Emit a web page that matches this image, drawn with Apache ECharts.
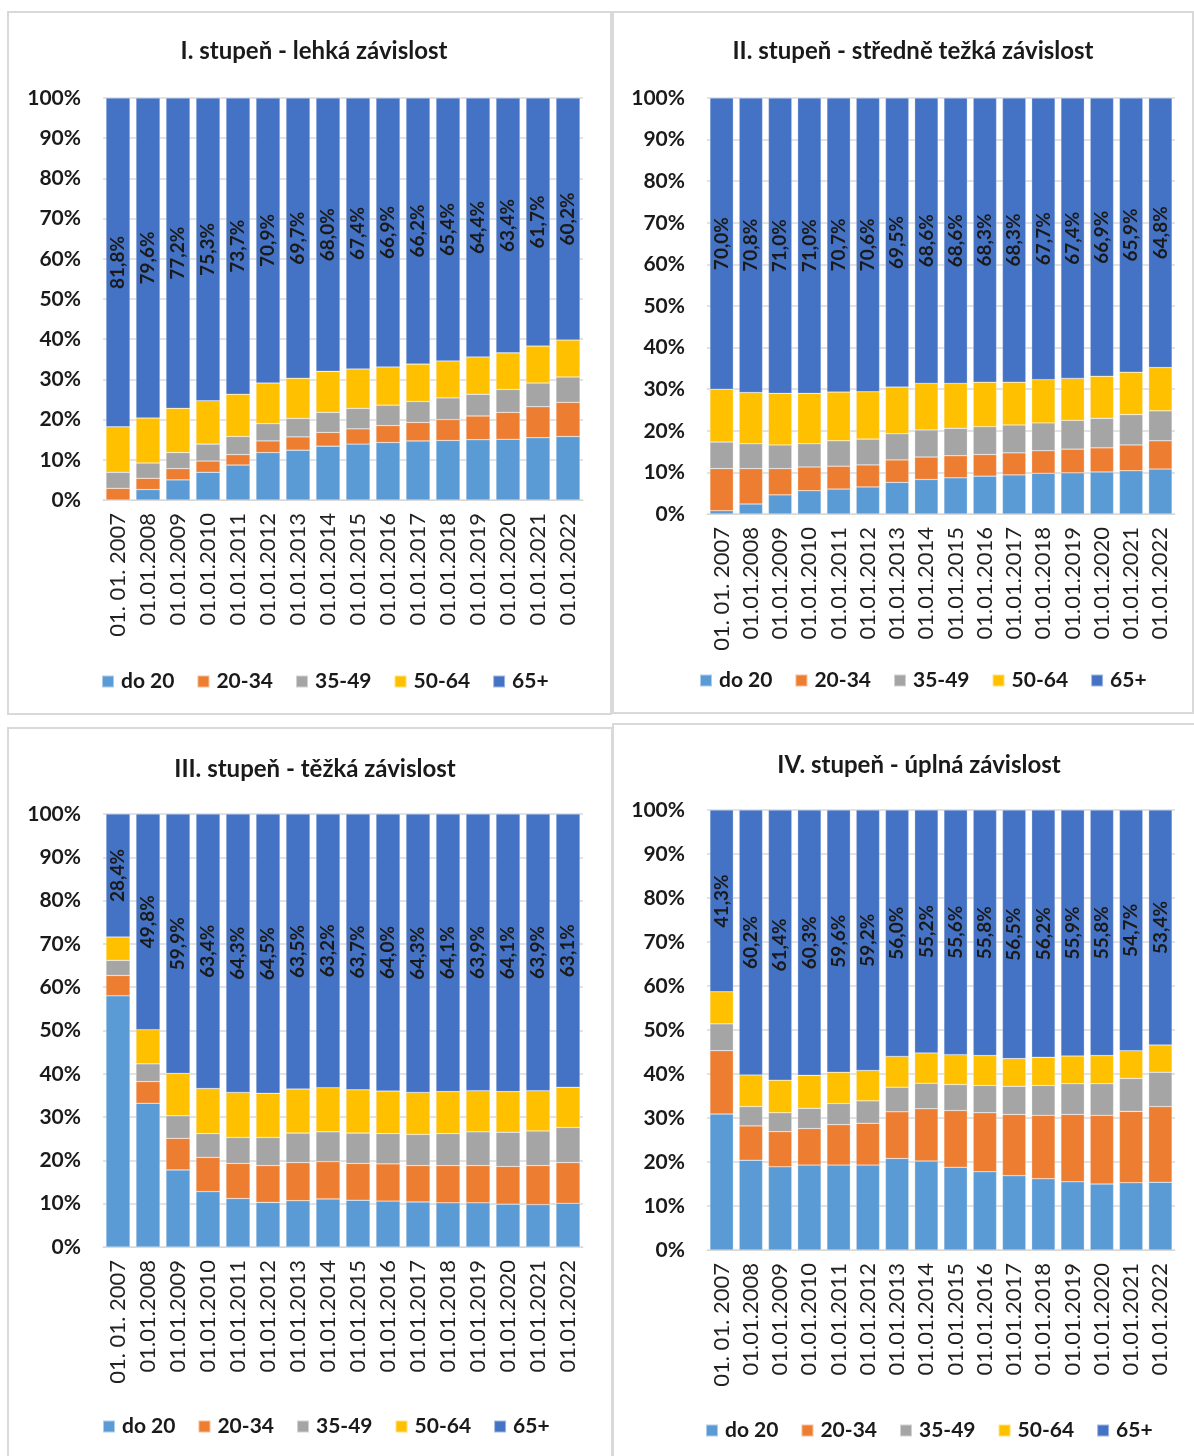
<!DOCTYPE html>
<html>
<head>
<meta charset="utf-8">
<script src="https://cdn.jsdelivr.net/npm/echarts@6/dist/echarts.min.js"></script>
<style>
html,body{margin:0;padding:0;background:#fff;}
#chart{width:1194px;height:1456px;}
</style>
</head>
<body>
<div id="chart"></div>
<script>
// ---- data ----
const seriesNames = ['do 20', '20-34', '35-49', '50-64', '65+'];
const categories = ['01. 01. 2007','01.01.2008','01.01.2009','01.01.2010','01.01.2011','01.01.2012','01.01.2013','01.01.2014','01.01.2015','01.01.2016','01.01.2017','01.01.2018','01.01.2019','01.01.2020','01.01.2021','01.01.2022'];
const yTickValues = [0,10,20,30,40,50,60,70,80,90,100];

const titles = ['I. stupeň - lehká závislost','II. stupeň - středně težká závislost','III. stupeň - těžká závislost','IV. stupeň - úplná závislost'];

// Panel I
const p1_do20  = [0.0,2.6,5.0,6.9,8.7,11.8,12.4,13.4,13.9,14.3,14.7,14.8,15.0,15.1,15.5,15.8];
const p1_20_34 = [2.9,2.8,2.8,2.8,2.6,2.9,3.3,3.4,3.8,4.2,4.6,5.2,5.9,6.7,7.7,8.5];
const p1_35_49 = [4.0,3.8,4.0,4.2,4.5,4.3,4.6,5.0,5.1,5.1,5.2,5.4,5.4,5.7,5.9,6.3];
const p1_50_64 = [11.3,11.2,11.0,10.8,10.5,10.1,10.0,10.2,9.8,9.5,9.3,9.2,9.3,9.1,9.2,9.2];
const p1_65    = [81.8,79.6,77.2,75.3,73.7,70.9,69.7,68.0,67.4,66.9,66.2,65.4,64.4,63.4,61.7,60.2];

// Panel II
const p2_do20  = [0.8,2.4,4.6,5.6,6.0,6.5,7.6,8.3,8.7,9.1,9.4,9.8,9.9,10.1,10.4,10.8];
const p2_20_34 = [10.1,8.5,6.3,5.7,5.5,5.3,5.4,5.4,5.3,5.2,5.3,5.4,5.7,5.8,6.2,6.8];
const p2_35_49 = [6.4,6.0,5.7,5.6,6.1,6.2,6.3,6.5,6.6,6.7,6.7,6.7,6.9,7.1,7.3,7.2];
const p2_50_64 = [12.7,12.3,12.4,12.1,11.7,11.4,11.2,11.2,10.8,10.7,10.3,10.4,10.1,10.1,10.2,10.4];
const p2_65    = [70.0,70.8,71.0,71.0,70.7,70.6,69.5,68.6,68.6,68.3,68.3,67.7,67.4,66.9,65.9,64.8];

// Panel III
const p3_do20  = [58.0,33.2,17.8,12.8,11.2,10.3,10.7,11.1,10.8,10.6,10.4,10.2,10.2,9.9,9.8,10.1];
const p3_20_34 = [4.7,5.0,7.3,7.9,8.1,8.5,8.8,8.6,8.5,8.6,8.4,8.6,8.6,8.7,9.0,9.4];
const p3_35_49 = [3.5,4.1,5.2,5.5,6.0,6.5,6.8,6.9,7.0,7.0,7.2,7.4,7.8,7.9,8.0,8.1];
const p3_50_64 = [5.4,7.9,9.8,10.4,10.4,10.2,10.2,10.2,10.0,9.8,9.7,9.7,9.5,9.4,9.3,9.3];
const p3_65    = [28.4,49.8,59.9,63.4,64.3,64.5,63.5,63.2,63.7,64.0,64.3,64.1,63.9,64.1,63.9,63.1];

// Panel IV
const p4_do20  = [30.9,20.4,18.9,19.3,19.3,19.3,20.8,20.2,18.8,17.8,16.9,16.2,15.5,15.0,15.3,15.4];
const p4_20_34 = [14.4,7.8,8.0,8.3,9.2,9.5,10.6,11.9,12.9,13.4,13.9,14.4,15.3,15.6,16.2,17.2];
const p4_35_49 = [6.1,4.4,4.3,4.6,4.8,5.1,5.6,5.8,5.9,6.2,6.4,6.8,7.0,7.2,7.5,7.8];
const p4_50_64 = [7.3,7.2,7.4,7.5,7.1,6.9,7.0,6.9,6.8,6.8,6.3,6.4,6.3,6.4,6.3,6.2];
const p4_65    = [41.3,60.2,61.4,60.3,59.6,59.2,56.0,55.2,55.6,55.8,56.5,56.2,55.9,55.8,54.7,53.4];

const panelData = [
  [p1_do20,p1_20_34,p1_35_49,p1_50_64,p1_65],
  [p2_do20,p2_20_34,p2_35_49,p2_50_64,p2_65],
  [p3_do20,p3_20_34,p3_35_49,p3_50_64,p3_65],
  [p4_do20,p4_20_34,p4_35_49,p4_50_64,p4_65]
];

// ---- layout/styles ----
const colors = ['#5B9BD5','#ED7D31','#A5A5A5','#FFC000','#4472C4'];
const FONT = 'Lato, "Open Sans", sans-serif';
const layout = [
  {left:103, right:1194-583, top:98, height:402, titleX:309, titleY:34, legendX:96, legendY:666, box:[8,12,603,702]},
  {left:707, right:1194-1175, top:98, height:416, titleX:908, titleY:34, legendX:694, legendY:665, box:[613,12,580,701]},
  {left:103, right:1194-583, top:814, height:433, titleX:310, titleY:752, legendX:97, legendY:1411, box:[8,728,604,740]},
  {left:707, right:1194-1175, top:810, height:440, titleX:914, titleY:748, legendX:700, legendY:1415, box:[613,724,590,740]}
];

const grid=[], xAxis=[], yAxis=[], series=[], title=[], legend=[], graphic=[];
layout.forEach((L,i)=>{
  grid.push({left:L.left, right:L.right, top:L.top, height:L.height});
  title.push({text:titles[i], left:L.titleX, top:L.titleY, textAlign:'center',
    textStyle:{fontFamily:FONT, fontWeight:'bold', fontSize:24, color:'#1a1a1a'}});
  legend.push({data:seriesNames, left:L.legendX, top:L.legendY, orient:'horizontal',
    itemWidth:12, itemHeight:12, itemGap:22, icon:'rect',
    formatter: n => '{b|' + n + '}',
    textStyle:{fontFamily:FONT, fontWeight:'bold', fontSize:21, color:'#1a1a1a',
      rich:{b:{fontFamily:FONT, fontWeight:'bold', fontSize:21, color:'#1a1a1a', padding:[0,0,0,2]}}}});
  xAxis.push({type:'category', gridIndex:i, data:categories,
    axisLine:{lineStyle:{color:'#d9d9d9', width:1}}, axisTick:{show:false},
    axisLabel:{rotate:90, interval:0, margin:13, fontFamily:FONT, fontSize:22, color:'#222'}});
  yAxis.push({type:'value', gridIndex:i, min:0, max:100, interval:10,
    axisLine:{show:false}, axisTick:{show:false},
    splitLine:{lineStyle:{color:'#d9d9d9', width:1.5}},
    axisLabel:{margin:22, fontFamily:FONT, fontWeight:'bold', fontSize:21, color:'#1a1a1a',
      formatter:v=>v+'%'}});
  panelData[i].forEach((arr,k)=>{
    const s = {name:seriesNames[k], type:'bar', stack:'p'+i, xAxisIndex:i, yAxisIndex:i,
      data:arr, barCategoryGap:'20%', itemStyle:{color:colors[k], borderColor:'rgba(255,255,255,0.5)', borderWidth:0.5}};
    if(k===4){
      s.label={show:true, position:'inside', rotate:90, fontFamily:FONT, fontWeight:'bold', fontSize:19, color:'#1a1a1a',
        formatter:p=>p.value.toFixed(1).replace('.',',')+'%'};
    }
    series.push(s);
  });
  graphic.push({type:'rect', shape:{x:L.box[0], y:L.box[1], width:L.box[2], height:L.box[3]},
    style:{fill:'none', stroke:'#d9d9d9', lineWidth:2}, silent:true, z:-10});
});

const chart = echarts.init(document.getElementById('chart'), null, {renderer:'canvas'});
chart.setOption({animation:false, color:colors, grid, xAxis, yAxis, series, title, legend, graphic});
</script>
</body>
</html>
